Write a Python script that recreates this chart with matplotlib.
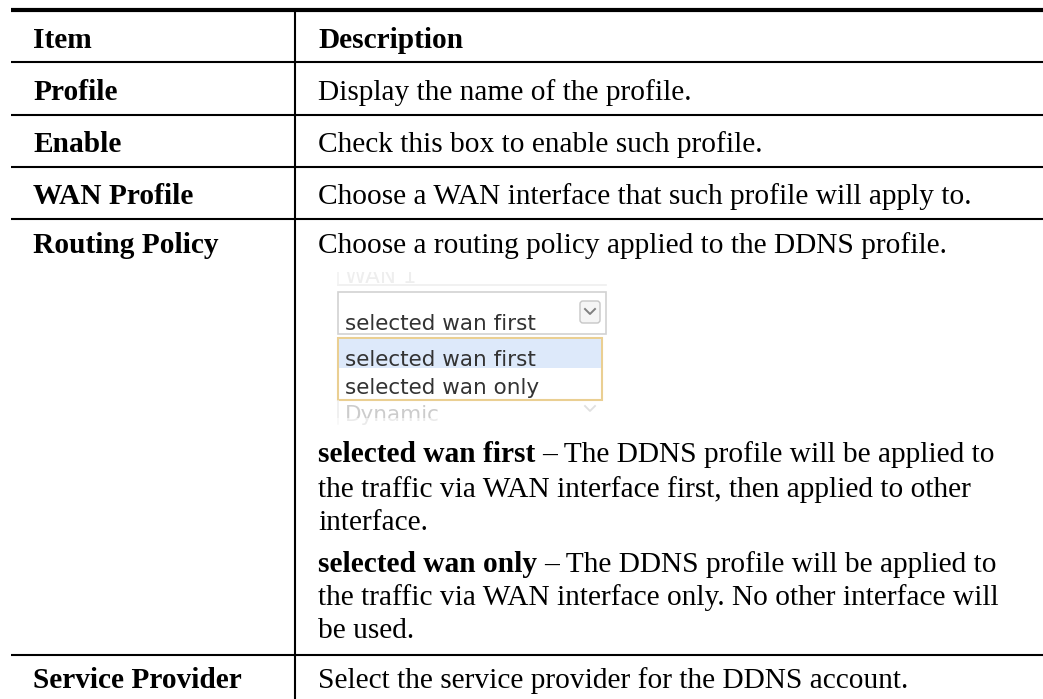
import matplotlib.pyplot as plt
from matplotlib.patches import Rectangle, FancyBboxPatch

header = ["Item", "Description"]
items = ["Profile", "Enable", "WAN Profile", "Routing Policy", "Service Provider"]
descriptions = [
    "Display the name of the profile.",
    "Check this box to enable such profile.",
    "Choose a WAN interface that such profile will apply to.",
    "Choose a routing policy applied to the DDNS profile.",
    "Select the service provider for the DDNS account.",
]
policy_names = ["selected wan first", "selected wan only"]
policy_lines = [
    ["– The DDNS profile will be applied to",
     "the traffic via WAN interface first, then applied to other",
     "interface."],
    ["– The DDNS profile will be applied to",
     "the traffic via WAN interface only. No other interface will",
     "be used."],
]
dropdown_value = "selected wan first"
dropdown_options = ["selected wan first", "selected wan only", "Dynamic"]

W, H = 1043, 699
fig = plt.figure(figsize=(W / 100, H / 100), dpi=100)
ax = fig.add_axes([0, 0, 1, 1])
ax.set_xlim(0, W)
ax.set_ylim(H, 0)
ax.axis("off")

serif = "Liberation Serif"
fs = 21.2
x0, xdiv, x1 = 11, 295, W
xi, xd = 33, 318

# rules of the table
ax.plot([x0, x1], [10, 10], color="black", lw=3.0, solid_capstyle="butt")
row_y = [62, 115, 167, 219, 655]
for y in row_y:
    ax.plot([x0, x1], [y, y], color="black", lw=1.5, solid_capstyle="butt")
ax.plot([xdiv, xdiv], [12, H], color="black", lw=1.5)

# header
ax.text(xi, 48, header[0], fontfamily=serif, fontsize=fs, fontweight="bold", va="baseline")
ax.text(xd, 48, header[1], fontfamily=serif, fontsize=fs, fontweight="bold", va="baseline")

baselines = [100, 152, 204, 253, 688]
for name, desc, yb in zip(items, descriptions, baselines):
    ax.text(xi, yb, name, fontfamily=serif, fontsize=fs, fontweight="bold", va="baseline")
    ax.text(xd, yb, desc, fontfamily=serif, fontsize=fs, va="baseline")

# screenshot of the dropdown
sans = "DejaVu Sans"
wfs = 15.5
bx0, bx1 = 338, 606
ax.plot([bx0, bx1], [285, 285], color="#efefef", lw=1.2)
ax.plot([bx0, bx0], [268, 285], color="#f2f2f2", lw=1.2)
ax.text(345, 283, "WAN 1", fontfamily=sans, fontsize=wfs, color="#eeeeee", va="baseline")
ax.add_patch(Rectangle((bx0 - 1, 260), bx1 - bx0 + 2, 12, facecolor="white", edgecolor="none", zorder=3))

ax.add_patch(Rectangle((bx0, 292), bx1 - bx0, 42, facecolor="white", edgecolor="#d2d2d2", lw=1.2))
ax.text(345, 330, dropdown_value, fontfamily=sans, fontsize=wfs, color="#333333", va="baseline")
ax.add_patch(FancyBboxPatch((580, 301), 20, 22, boxstyle="round,pad=0,rounding_size=3",
                            facecolor="#f5f5f5", edgecolor="#c6c6c6", lw=1))
ax.plot([585, 590, 595], [309, 314, 309], color="#808080", lw=1.4)

ax.add_patch(Rectangle((bx0, 338), bx1 - bx0 - 4, 62, facecolor="white", edgecolor="#eacf92", lw=1.5))
ax.add_patch(Rectangle((bx0 + 1, 339), bx1 - bx0 - 6, 29, facecolor="#dde9fa", edgecolor="none"))
ax.text(345, 366, dropdown_options[0], fontfamily=sans, fontsize=wfs, color="#333333", va="baseline")
ax.text(345, 394, dropdown_options[1], fontfamily=sans, fontsize=wfs, color="#333333", va="baseline")
ax.text(345, 421, dropdown_options[2], fontfamily=sans, fontsize=wfs, color="#cccccc", va="baseline")
ax.plot([bx0, bx0], [401, 424], color="#eeeeee", lw=1.2)
ax.plot([585, 590, 595], [406, 411, 406], color="#e0e0e0", lw=1.3)
ax.add_patch(Rectangle((bx0 - 1, 418), bx1 - bx0 + 2, 12, facecolor="white", edgecolor="none",
                       alpha=0.6, zorder=3))

# policy paragraphs, bold lead-in then plain text
fig.canvas.draw()
renderer = fig.canvas.get_renderer()
para_base = [[462, 497, 530], [572, 605, 638]]
for name, lines, ys in zip(policy_names, policy_lines, para_base):
    tb = ax.text(xd, ys[0], name, fontfamily=serif, fontsize=fs, fontweight="bold", va="baseline")
    bb = tb.get_window_extent(renderer)
    xr = ax.transData.inverted().transform((bb.x1, bb.y0))[0]
    ax.text(xr + 7, ys[0], lines[0], fontfamily=serif, fontsize=fs, va="baseline")
    for ln, y in zip(lines[1:], ys[1:]):
        ax.text(xd, y, ln, fontfamily=serif, fontsize=fs, va="baseline")

fig.savefig("out.png", dpi=100)
